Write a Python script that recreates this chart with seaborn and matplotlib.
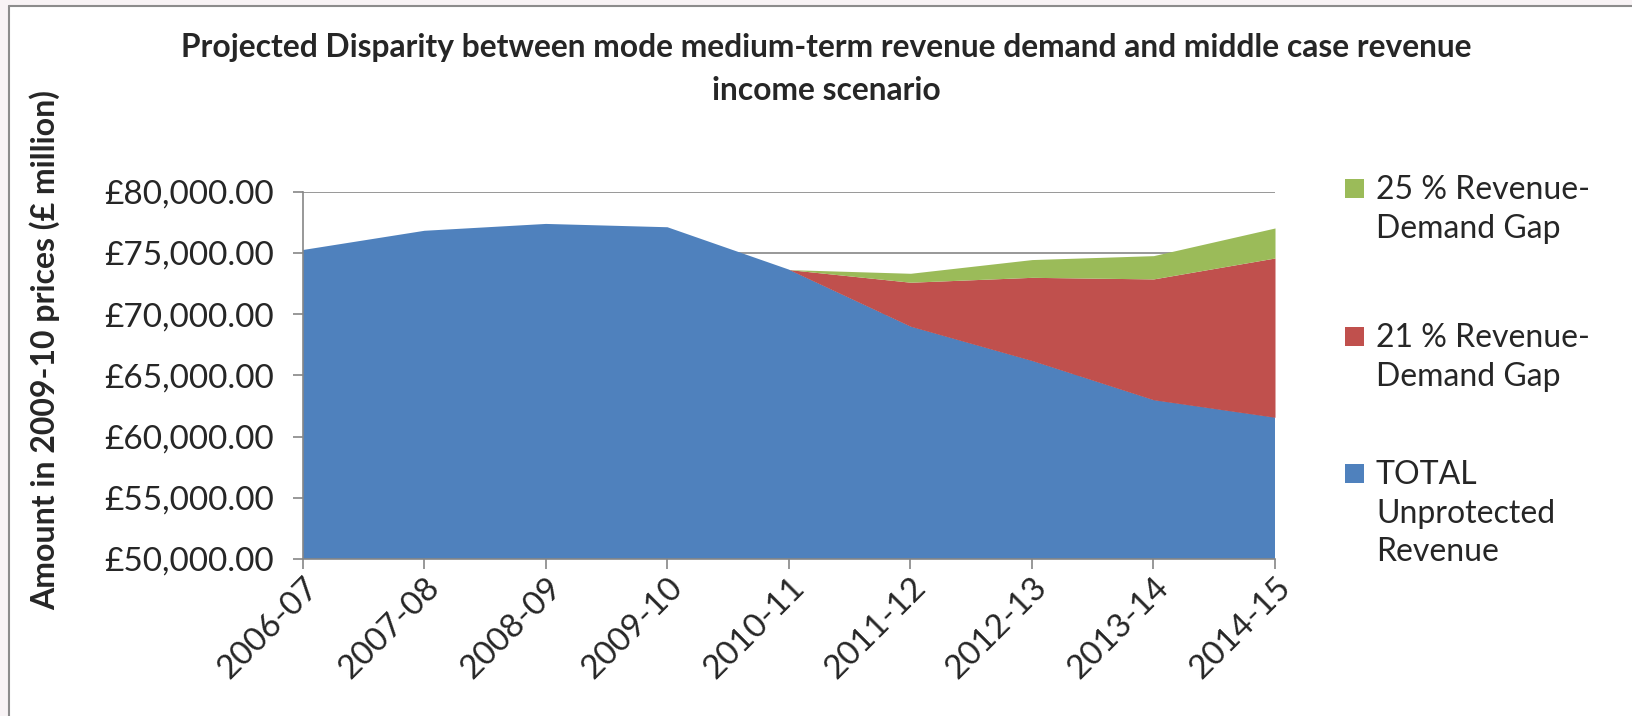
import numpy as np
import pandas as pd
import seaborn as sns
import matplotlib.pyplot as plt
from matplotlib.patches import Rectangle
from matplotlib.lines import Line2D
from matplotlib.ticker import FuncFormatter, MultipleLocator

# values (GBP million, 2009-10 prices)
years = ['2006-07', '2007-08', '2008-09', '2009-10', '2010-11',
         '2011-12', '2012-13', '2013-14', '2014-15']
unprotected = [75230, 76800, 77360, 77090, 73630, 69000, 66200, 63000, 61570]
gap_21 = [0, 0, 0, 0, 0, 3600, 6800, 9870, 13010]
gap_25_extra = [0, 0, 0, 0, 0, 730, 1450, 1900, 2450]

labels = ['TOTAL\nUnprotected\nRevenue', '21 % Revenue-\nDemand Gap', '25 % Revenue-\nDemand Gap']
colors = ['#4F81BD', '#C0504D', '#9BBB59']

df = pd.DataFrame({'year': years,
                   labels[0]: unprotected,
                   labels[1]: gap_21,
                   labels[2]: gap_25_extra})

sns.set_style('white')
plt.rcParams['font.family'] = ['Lato', 'DejaVu Sans']

W, H = 1633, 716
fig = plt.figure(figsize=(W / 100, H / 100), dpi=100)
fig.patch.set_facecolor('#f8f3f5')

# chart frame: white area, only top and left edges show in the reference
fx, fy = 9 / W, 1 - 6 / H
fig.patches.append(Rectangle((fx, 0), 1 - fx, fy, transform=fig.transFigure,
                             facecolor='white', lw=0, zorder=-10))
fig.add_artist(Line2D([fx, fx], [0, fy], transform=fig.transFigure, color='#8c8c8c', lw=1.5))
fig.add_artist(Line2D([fx, 1], [fy, fy], transform=fig.transFigure, color='#8c8c8c', lw=1.5))

ax = fig.add_axes([303 / W, 1 - 559 / H, (1275 - 303) / W, (559 - 191.6) / H])
ax.set_facecolor('none')

x = np.arange(len(df))
ax.stackplot(x, df[labels[0]], df[labels[1]], df[labels[2]], colors=colors, lw=0)

ax.set_xlim(0, len(df) - 1)
ax.set_ylim(50000, 80000)
ax.yaxis.set_major_locator(MultipleLocator(5000))
ax.yaxis.set_major_formatter(FuncFormatter(lambda v, p: f'£{v:,.2f}'))
ax.set_xticks(x)
ax.set_xticklabels(df['year'], rotation=45, ha='right', rotation_mode='anchor')

ax.yaxis.grid(True, color='#868686', lw=1.2)
ax.set_axisbelow(True)
sns.despine(ax=ax, top=True, right=True)
for s in ['left', 'bottom']:
    ax.spines[s].set_color('#868686')
    ax.spines[s].set_linewidth(1.2)

ax.tick_params(axis='y', direction='out', length=7.2, width=1.2, color='#868686',
               labelsize=24, pad=14, left=True)
ax.tick_params(axis='x', direction='out', length=7.2, width=1.2, color='#868686',
               labelsize=24, pad=2, bottom=True)

ax.set_ylabel('Amount in 2009-10 prices (£ million)', fontsize=23, fontweight='bold')
ax.yaxis.set_label_coords(60 / W, 366 / H, transform=fig.transFigure)

fig.text(826 / W, 1 - 48 / H,
         'Projected Disparity between mode medium-term revenue demand and middle case revenue',
         ha='center', va='center', fontsize=22.9, fontweight='bold')
fig.text(826 / W, 1 - 90 / H, 'income scenario',
         ha='center', va='center', fontsize=22.9, fontweight='bold')

# legend, top entry first as in the reference
leg_tops = [179, 327, 464]
for name, col, top in zip(labels[::-1], colors[::-1], leg_tops):
    fig.patches.append(Rectangle((1345 / W, 1 - (top + 19) / H), 19 / W, 19 / H,
                                 transform=fig.transFigure, facecolor=col, lw=0))
    fig.text(1376 / W, 1 - (top - 4) / H, name, ha='left', va='top',
             fontsize=23, linespacing=1.36)

fig.savefig('out.png', dpi=100)
